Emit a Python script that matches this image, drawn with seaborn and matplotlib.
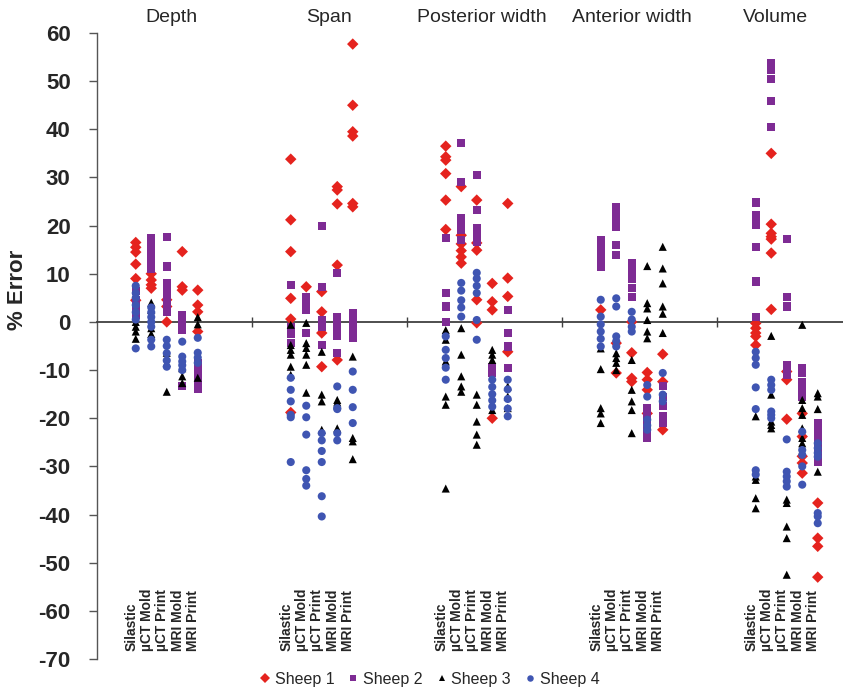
import matplotlib
matplotlib.use("Agg")
import numpy as np
import pandas as pd
import matplotlib.pyplot as plt
import seaborn as sns

# ---------- Data (% error, lists per method: Silastic, uCT Mold, uCT Print, MRI Mold, MRI Print) ----------
measures = ["Depth", "Span", "Posterior width", "Anterior width", "Volume"]
methods = ["Silastic", "µCT Mold", "µCT Print", "MRI Mold", "MRI Print"]
sheep = ["Sheep 1", "Sheep 2", "Sheep 3", "Sheep 4"]

depth_s1 = [[16.5, 15.5, 14.5, 12, 9, 4.5], [10, 8.7, 7.7, 7], [4.6, 3.2, 0], [14.6, 7.3, 6.6], [6.6, 3.5, 2.1, -2]]
depth_s2 = [[6.5, 4.5, 3, 1.5], [17.4, 16.3, 15, 13.8, 12.5, 11], [17.7, 11.5, 8, 6.5, 5, 3.5, 2], [1.5, 0, -1.7, -13.4], [-8.5, -10, -11.5, -13, -14]]
depth_s3 = [[0, -1, -2, -3.5], [4, 2.5, -1.3, -2.5], [-6.4, -8.5, -14.5], [-9.6, -11.3, -12.7], [1, -0.5, -11.6]]
depth_s4 = [[7.5, 6, 5, 3.5, 2, 0.5, -5.5], [3, 2, 1, 0, -1, -3.7, -5.1], [-3.7, -5, -6.5, -8, -9.3], [-4.1, -7.2, -8.2, -9, -10], [-3.3, -6.4, -7.4, -8.5]]

span_s1 = [[33.8, 21.2, 14.6, 4.9, 0.6, -18.8], [7.3], [6.3, 2.1, -2.3, -9.3], [28.1, 27.4, 24.5, 11.8, -7.9], [57.7, 45, 39.5, 38.6, 24.6, 23.9]]
span_s2 = [[7.7, -1, -2.5, -4.4], [5.2, 4, 2.5, -2.3], [19.9, 7.3, 0.4, -1, -4.8], [10.2, 1.1, -0.5, -2, -3, -6.4], [1.9, 0.5, -0.8, -2, -3.3]]
span_s3 = [[-0.6, -4.8, -5.8, -6.8, -9.3, -11], [-0.2, -4.4, -5.4, -6.8, -8.9, -14.7], [-6.2, -15.1, -16.5, -22.4], [-16.2, -16.7, -22.1], [-7.2, -24.1, -24.8, -28.5]]
span_s4 = [[-11.6, -14.1, -16.5, -19.3, -19.8, -29.1], [-17.4, -19.8, -23.4, -30.8, -32.6, -34], [-23.1, -24.6, -26.8, -29.1, -36.2, -40.4], [-13.4, -17.9, -18.1, -23.1, -24.6], [-10.3, -14.1, -17.7, -21]]

post_s1 = [[36.5, 34.3, 33.6, 30.8, 25.3, 19.2], [28.1, 18, 16.2, 14.8, 13.5, 12.2], [25.3, 16.4, 14.9, 4.6, -0.2], [8, 4.2, 2.5, -20], [24.6, 9.1, 5.3, -6.2]]
post_s2 = [[17.4, 6, 3.2, 0], [37.2, 29.1, 21.6, 20.5, 19.2, 17], [30.5, 23.2, 19.5, 18.5, 16.7], [-9.3, -10.6], [2.5, -2.3, -5.1, -9.6]]
post_s3 = [[-1.7, -3.7, -8.2, -15.5, -17.2, -34.6], [-1.3, -6.8, -11.3, -13.4, -14.5], [-15.1, -17.2, -20.7, -23.4, -25.5], [-5.8, -6.8, -7.9, -18.3], [-13.4, -15.5, -17.9]]
post_s4 = [[-3, -5.8, -7.5, -9.5, -12], [8.1, 6.5, 4.5, 3, 1.1], [10.2, 9, 7.5, 6, 0.4, -3.7], [-12, -13.5, -15, -16.3, -17.6], [-12, -14, -16, -18, -19.6]]

ant_s1 = [[2.5], [-4.4, -10.6], [0, -6.4, -11.7, -12.4], [-10.5, -12, -14.1, -19], [-6.7, -12.4, -22.4]]
ant_s2 = [[17, 15.3, 14.3, 12.9, 11.5], [23.9, 22.9, 21.2, 19.8, 16, 13.9], [12.2, 10.5, 9, 7, 5.2], [-17.9, -19.5, -21, -22.5, -24.1], [-13.4, -15.5, -17.5, -19.5, -21]]
ant_s3 = [[-5.5, -9.8, -17.9, -19, -21], [-6.5, -7.5, -8.5, -10], [-7.9, -14.1, -16.5, -18.3, -23.1], [11.6, 3.9, 2.8, 0.4, -2, -3.4], [15.6, 11.1, 8, 3.2, 1.7, -2.3]]
ant_s4 = [[4.6, 1.1, -0.5, -2, -3.5, -5.1], [4.9, 3.2, -3, -4, -5.1], [2.1, 0.5, -1, -2], [-13.1, -15.5, -20.3, -21.5, -22.4], [-10.6, -15.1, -16.5]]

vol_s1 = [[-0.3, -1.3, -2.3, -3, -4.8], [35, 20.3, 18.4, 17.7, 17.2, 14.3, 2.6], [-10.3, -12, -20.2], [-19, -23.8, -27.9, -29.3, -31.4], [-37.6, -44.9, -46.6, -53]]
vol_s2 = [[24.8, 22.2, 21.2, 20.1, 15.6, 8.4, 1], [53.8, 52.8, 52.3, 50.4, 45.9, 40.4], [17.2, 5.2, 3.2, -8.9, -10, -11], [-9.6, -10.6, -12.4, -13.4, -14.5, -15.5], [-21, -22.5, -24, -25.5, -27, -28, -29]]
vol_s3 = [[-19.6, -32.1, -32.8, -36.6, -38.7], [-2.9, -15.1, -20.7, -21.4, -22.1], [-36.9, -37.6, -42.5, -44.9, -52.5], [-0.6, -16.2, -17.9, -19.3, -22.1, -24.1, -25.2], [-14.8, -15.5, -18.1, -31.1]]
vol_s4 = [[-6.2, -7.5, -8.9, -13.6, -18.1, -30.8, -31.7], [-12, -13.1, -14.1, -18.6, -19.3, -20], [-24.4, -31.1, -32.1, -33.1, -34.2], [-22.8, -26.6, -27.6, -30, -33.8], [-25.2, -26.2, -27.2, -28, -39.7, -40.4, -41.8]]

# ---------- Long table ----------
by_measure = {
    "Depth": [depth_s1, depth_s2, depth_s3, depth_s4],
    "Span": [span_s1, span_s2, span_s3, span_s4],
    "Posterior width": [post_s1, post_s2, post_s3, post_s4],
    "Anterior width": [ant_s1, ant_s2, ant_s3, ant_s4],
    "Volume": [vol_s1, vol_s2, vol_s3, vol_s4],
}

rows = []
for si, s in enumerate(sheep):
    for mi, m in enumerate(measures):
        for ki, vals in enumerate(by_measure[m][si]):
            for v in vals:
                rows.append({"Sheep": s, "Measure": m, "Method": methods[ki],
                             "x": mi + 0.25 + 0.1 * ki, "Error": v})
df = pd.DataFrame(rows)

# ---------- Style ----------
sns.set_style("white")
plt.rcParams["font.family"] = ["Liberation Sans", "DejaVu Sans"]
plt.rcParams["axes.unicode_minus"] = False

colors = {"Sheep 1": "#e5231e", "Sheep 2": "#7e2b94", "Sheep 3": "#000000", "Sheep 4": "#3f55b2"}
markers = {"Sheep 1": "D", "Sheep 2": "s", "Sheep 3": "^", "Sheep 4": "o"}

fig = plt.figure(figsize=(8.43, 6.91), dpi=100)
ax = fig.add_axes([97 / 843, 1 - 659 / 691, (843 - 97) / 843, (659 - 33) / 691])

sns.scatterplot(data=df, x="x", y="Error", hue="Sheep", style="Sheep",
                palette=colors, markers=markers, s=34, linewidth=0,
                zorder=3, ax=ax)

ax.set_xlim(0, 4.813)
ax.set_ylim(-70, 60)
ax.set_yticks(np.arange(-70, 61, 10))
ax.tick_params(axis="y", direction="out", length=6, width=1, color="#555555",
               labelsize=16, pad=13, left=True)
for lab in ax.get_yticklabels():
    lab.set_fontweight("bold")

# x-axis drawn as the zero line, ticks between measures
ax.spines["bottom"].set_position(("data", 0))
ax.spines["bottom"].set_color("#404040")
ax.spines["bottom"].set_linewidth(1.3)
ax.spines["left"].set_color("#555555")
ax.spines["left"].set_linewidth(1.0)
ax.spines["top"].set_visible(False)
ax.spines["right"].set_visible(False)
ax.set_xticks([1, 2, 3, 4])
ax.tick_params(axis="x", direction="inout", length=7, width=1, color="#404040",
               labelbottom=False, bottom=True)
ax.set_xlabel("")

ax.set_ylabel("% Error", fontsize=16, fontweight="bold")
ax.yaxis.set_label_coords(-0.092, 0.59)

# measure titles
title_x = [0.48, 1.50, 2.48, 3.45, 4.38]
for tx, m in zip(title_x, measures):
    ax.text(tx, 63.2, m, ha="center", va="center", fontsize=14, clip_on=False)

# method labels under each column
for mi in range(len(measures)):
    for ki, meth in enumerate(methods):
        ax.text(mi + 0.25 + 0.1 * ki - 0.03, -68.3, meth, rotation=90,
                ha="center", va="bottom", fontsize=10, fontweight="bold")

sns.move_legend(ax, "center", bbox_to_anchor=(0.445, -0.032), ncol=4,
                frameon=False, title=None, fontsize=11.5, handletextpad=0.2,
                handlelength=0.8, columnspacing=0.8, markerscale=0.8)

fig.savefig("out.png", dpi=100)
